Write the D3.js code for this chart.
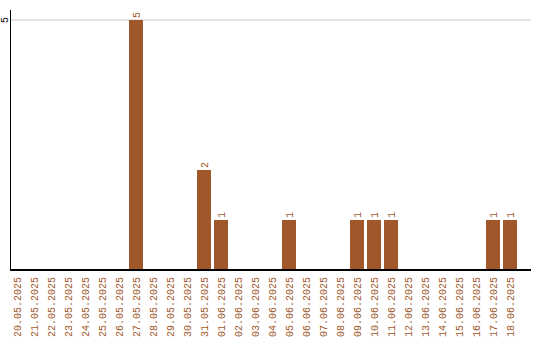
<!DOCTYPE html>
<html>
<head>
<meta charset="utf-8">
<script src="https://cdn.jsdelivr.net/npm/d3@7"></script>
<style>
  body { margin: 0; background: #fff; }
  text { font-family: "Liberation Mono", monospace; }
</style>
</head>
<body>
<svg id="chart" width="540" height="340"></svg>
<script>
const days = ["20.05.2025","21.05.2025","22.05.2025","23.05.2025","24.05.2025","25.05.2025",
  "26.05.2025","27.05.2025","28.05.2025","29.05.2025","30.05.2025","31.05.2025","01.06.2025",
  "02.06.2025","03.06.2025","04.06.2025","05.06.2025","06.06.2025","07.06.2025","08.06.2025",
  "09.06.2025","10.06.2025","11.06.2025","12.06.2025","13.06.2025","14.06.2025","15.06.2025",
  "16.06.2025","17.06.2025","18.06.2025"]
const counts = [0,0,0,0,0,0,0,5,0,0,0,2,1,0,0,0,1,0,0,0,1,1,1,0,0,0,0,0,1,1]
const yTicks = [5]

const svg = d3.select("#chart")
const barColor = "#a0572a"

let x = d3.scaleBand().domain(days).range([10, 520]).padding(0)
let y = d3.scaleLinear().domain([0, 5]).range([270, 20])
let bw = x.bandwidth() - 3

// grid
svg.selectAll(".grid").data(yTicks).enter().append("line")
    .attr("x1", 10).attr("x2", 531)
    .attr("y1", d => y(d)).attr("y2", d => y(d))
    .attr("stroke", "#c8c8c8").attr("stroke-width", 1)

// bars
let data = days.map((d, i) => ({ day: d, n: counts[i] })).filter(d => d.n > 0)
svg.selectAll(".bar").data(data).enter().append("rect")
    .attr("x", d => x(d.day))
    .attr("y", d => y(d.n))
    .attr("width", bw)
    .attr("height", d => y(0) - y(d.n))
    .attr("fill", barColor)

// value labels
svg.selectAll(".val").data(data).enter().append("text")
    .attr("transform", d => `translate(${x(d.day) + bw / 2 + 3.5},${y(d.n) - 2}) rotate(-90)`)
    .attr("font-size", 10)
    .attr("fill", barColor)
    .text(d => d.n)

// axes lines
svg.append("line").attr("x1", 10.5).attr("x2", 10.5).attr("y1", 10).attr("y2", 270)
    .attr("stroke", "#000").attr("stroke-width", 1)
svg.append("line").attr("x1", 10).attr("x2", 531).attr("y1", 270).attr("y2", 270)
    .attr("stroke", "#000").attr("stroke-width", 2)

// y tick labels
svg.selectAll(".ytick").data(yTicks).enter().append("text")
    .attr("transform", d => `translate(7.5,${y(d)}) rotate(-90)`)
    .attr("text-anchor", "middle")
    .attr("font-size", 10)
    .attr("fill", "#000")
    .text(d => d)

// x labels
svg.selectAll(".xlab").data(days).enter().append("text")
    .attr("transform", d => `translate(${x(d) + bw / 2 + 4},277) rotate(-90)`)
    .attr("text-anchor", "end")
    .attr("font-size", 10)
    .attr("fill", barColor)
    .text(d => d)
</script>
</body>
</html>
